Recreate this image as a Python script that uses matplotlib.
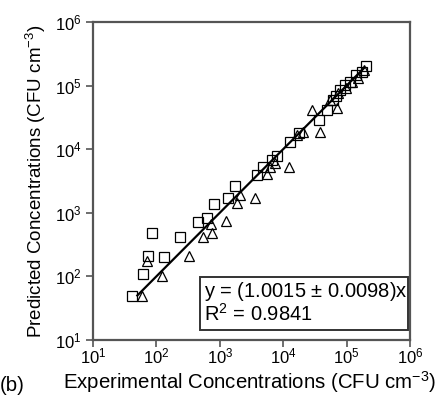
import matplotlib
matplotlib.use("Agg")
import matplotlib.pyplot as plt
from matplotlib.patches import Rectangle

plt.rcParams['font.family'] = ['Liberation Sans', 'DejaVu Sans']
plt.rcParams['mathtext.fontset'] = 'custom'
plt.rcParams['mathtext.rm'] = 'Liberation Sans'
plt.rcParams['mathtext.it'] = 'Liberation Sans'

# experimental vs predicted concentrations (CFU cm^-3)
sq_exp = [41, 62, 74, 85, 132, 236, 453, 628, 811, 1347, 1738, 3863, 4800, 6650,
          7980, 12800, 17740, 36700, 49100, 61000, 68000, 78700, 94400, 113000,
          141000, 175000, 202000]
sq_pred = [49, 109, 209, 481, 202, 416, 716, 828, 1374, 1710, 2637, 3927, 5250, 6760,
           7810, 12970, 18000, 28800, 41300, 59400, 68500, 85300, 102000, 114000,
           147000, 164000, 203000]

tri_exp = [59, 71, 122, 327, 543, 753, 727, 1253, 1867, 2083, 3590, 5550, 6190, 7430,
           12330, 16500, 20500, 28400, 38000, 54700, 70600, 73100, 97700, 121000,
           151000, 188000]
tri_pred = [49, 175, 101, 209, 416, 481, 667, 743, 1425, 1905, 1710, 4075, 5250, 6070,
            5250, 16700, 18600, 41300, 18600, 59400, 44500, 76500, 91700, 114000,
            132000, 176000]

slope = 1.0015
fit_x = [50, 190000]

fig = plt.figure(figsize=(4.48, 3.97), dpi=100)
ax = fig.add_axes([0.2076, 0.1436, 0.7076, 0.801])

ax.plot(sq_exp, sq_pred, 's', mfc='none', mec='black', ms=6.5, mew=0.9)
ax.plot(tri_exp, tri_pred, '^', mfc='none', mec='black', ms=7, mew=0.9)
ax.plot(fit_x, [slope * v for v in fit_x], '-', color='black', lw=1.6)

ax.set_xscale('log')
ax.set_yscale('log')
ax.set_xlim(10, 1e6)
ax.set_ylim(10, 1e6)
ax.minorticks_off()
ax.set_xticks([1e1, 1e2, 1e3, 1e4, 1e5, 1e6])
ax.set_yticks([1e1, 1e2, 1e3, 1e4, 1e5, 1e6])
ax.set_xticklabels(['$10^{%d}$' % i for i in range(1, 7)])
ax.set_yticklabels(['$10^{%d}$' % i for i in range(1, 7)])
ax.tick_params(axis='both', direction='out', length=5, width=1.2, labelsize=12,
               color='#555555')
ax.tick_params(axis='x', pad=0)
ax.tick_params(axis='y', pad=3)
for s in ax.spines.values():
    s.set_color('#555555')
    s.set_linewidth(1.6)

# equation box
ax.add_patch(Rectangle((0.3375, 0.031), 0.6565, 0.167, transform=ax.transAxes,
                       fc='white', ec='#333333', lw=1.4, zorder=3))
ax.text(0.35, 0.154, 'y = (1.0015 $\\pm$ 0.0098)x', transform=ax.transAxes,
        fontsize=14.5, va='center', ha='left', zorder=4)
ax.text(0.35, 0.081, 'R$^{2}$ = 0.9841', transform=ax.transAxes,
        fontsize=14.5, va='center', ha='left', zorder=4)

ax.set_ylabel('Predicted Concentrations (CFU cm$^{-3}$)', fontsize=13.5, labelpad=5)
fig.text(0.14, 0.004, 'Experimental Concentrations (CFU cm$^{-3}$)', fontsize=14.7,
         ha='left', va='bottom')
fig.text(0.0, 0.004, '(b)', fontsize=14.7, ha='left', va='bottom')

fig.savefig('out.png', dpi=100)
